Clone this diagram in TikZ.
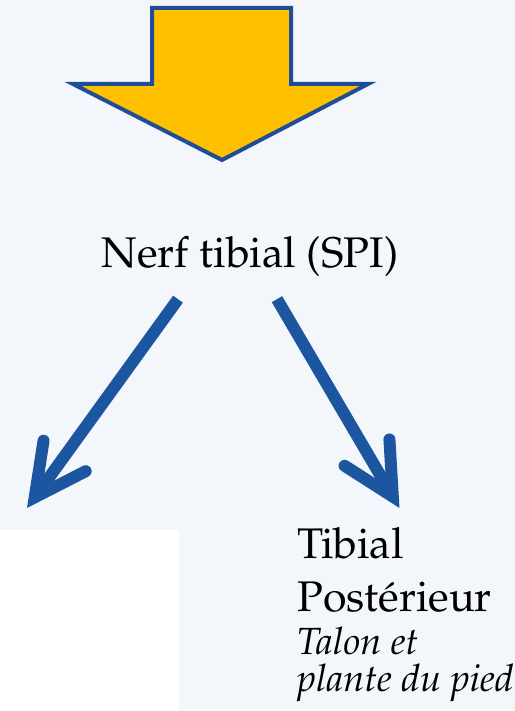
\documentclass[tikz,border=0pt]{standalone}
\usepackage[T1]{fontenc}
\usepackage{mathpazo}
\usetikzlibrary{arrows.meta,positioning}
\definecolor{fondpage}{HTML}{F3F6FA}
\definecolor{jaune}{HTML}{FFC000}
\definecolor{bleunerf}{HTML}{1C55A0}
\definecolor{bordure}{HTML}{1F4E96}

\begin{document}
\begin{tikzpicture}[x=1bp, y=-1bp,
    titre/.style={font=\fontsize{43}{53}\selectfont, inner sep=0pt},
    legende/.style={font=\fontsize{38}{37}\selectfont\itshape, inner sep=0pt, align=left},
    branche/.style={-{Straight Barb[length=51bp,width=52bp,line cap=round,line join=miter]},
                    bleunerf, line width=12bp}]
  % fond, avec le cadre blanc en bas a gauche
  \fill[fondpage] (0,0) rectangle (515,711);
  \fill[white] (0,530) rectangle (179,711);
  % grosse fleche jaune
  \filldraw[fill=jaune, draw=bordure, line width=4bp, line join=miter]
    (152,8) -- (291,8) -- (291,84) -- (368,84) -- (222,160) -- (73,84) -- (152,84) -- cycle;
  \node (nerf) [titre, anchor=base] at (250,267) {Nerf tibial (SPI)};
  \node (post) [titre, anchor=north west, align=left] at (297,527) {Tibial\\Post\'erieur};
  \node (talon) [legende, below=15bp of post.south west, anchor=north west] {Talon et\\plante du pied};
  \coordinate (gauche) at (27,508);
  \draw[branche] ([xshift=-72bp,yshift=-23bp]nerf.south) -- (gauche);
  \draw[branche] ([xshift=27bp,yshift=-23bp]nerf.south) -- ([xshift=5bp,yshift=19bp]post.north);
\end{tikzpicture}
\end{document}
